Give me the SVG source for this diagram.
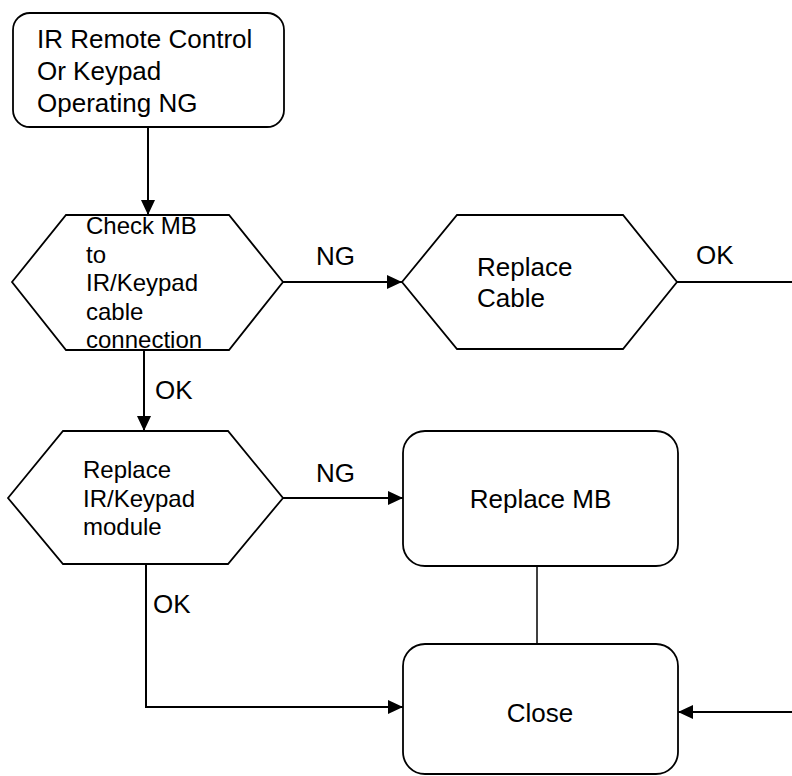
<svg xmlns="http://www.w3.org/2000/svg" width="792" height="776" viewBox="0 0 792 776">
<defs>
<style>
text{font-family:"Liberation Sans",Arial,sans-serif;fill:#000}
.t26{font-size:26px}
.t24{font-size:24px}
.shape{fill:#fff;stroke:#000;stroke-width:1.8}
.conn{fill:none;stroke:#000;stroke-width:2}
.thin{fill:none;stroke:#000;stroke-width:1.5}
</style>
<marker id="arr" markerUnits="userSpaceOnUse" markerWidth="15" markerHeight="14" refX="15" refY="7" orient="auto">
<path d="M0,0 L15,7 L0,14 z" fill="#000"/>
</marker>
</defs>
<rect width="792" height="776" fill="#fff"/>
<g id="connectors">
<line class="conn" x1="148" y1="127" x2="148" y2="215" marker-end="url(#arr)"/>
<line class="conn" x1="283" y1="282" x2="402" y2="282" marker-end="url(#arr)"/>
<line class="conn" x1="677" y1="282" x2="792" y2="282"/>
<line class="conn" x1="144" y1="350" x2="144" y2="431" marker-end="url(#arr)"/>
<line class="conn" x1="283" y1="498" x2="403" y2="498" marker-end="url(#arr)"/>
<polyline class="conn" points="146,564 146,707 403,707" marker-end="url(#arr)"/>
<line class="thin" x1="537" y1="566" x2="537" y2="644"/>
<line class="conn" x1="792" y1="712" x2="678" y2="712" marker-end="url(#arr)"/>
<text class="t26" x="316" y="265">NG</text>
<text class="t26" x="696" y="264">OK</text>
<text class="t26" x="155" y="399">OK</text>
<text class="t26" x="316" y="482">NG</text>
<text class="t26" x="153" y="613">OK</text>
</g>
<g id="start">
<rect class="shape" x="13" y="13" width="271" height="114" rx="17"/>
<text class="t26" x="37" y="47.5">IR Remote Control</text>
<text class="t26" x="37" y="80">Or Keypad</text>
<text class="t26" x="37" y="112">Operating NG</text>
</g>
<g id="check">
<polygon class="shape" points="12,282 66,215 229,215 283,282 229,350 66,350"/>
<text class="t24" x="86" y="234">Check MB</text>
<text class="t24" x="86" y="262.5">to</text>
<text class="t24" x="86" y="291">IR/Keypad</text>
<text class="t24" x="86" y="319.5">cable</text>
<text class="t24" x="86" y="348">connection</text>
</g>
<g id="replaceCable">
<polygon class="shape" points="402,282 457,215 623,215 677,282 623,349 457,349"/>
<text class="t26" x="477" y="276">Replace</text>
<text class="t26" x="477" y="307">Cable</text>
</g>
<g id="replaceModule">
<polygon class="shape" points="8,498 63,431 228,431 283,498 228,564 63,564"/>
<text class="t24" x="83" y="478">Replace</text>
<text class="t24" x="83" y="507">IR/Keypad</text>
<text class="t24" x="83" y="535">module</text>
</g>
<g id="replaceMB">
<rect class="shape" x="403" y="431" width="275" height="135" rx="22"/>
<text class="t26" x="540.5" y="508" text-anchor="middle">Replace MB</text>
</g>
<g id="close">
<rect class="shape" x="403" y="644" width="275" height="130" rx="22"/>
<text class="t26" x="540" y="722" text-anchor="middle">Close</text>
</g>
</svg>
